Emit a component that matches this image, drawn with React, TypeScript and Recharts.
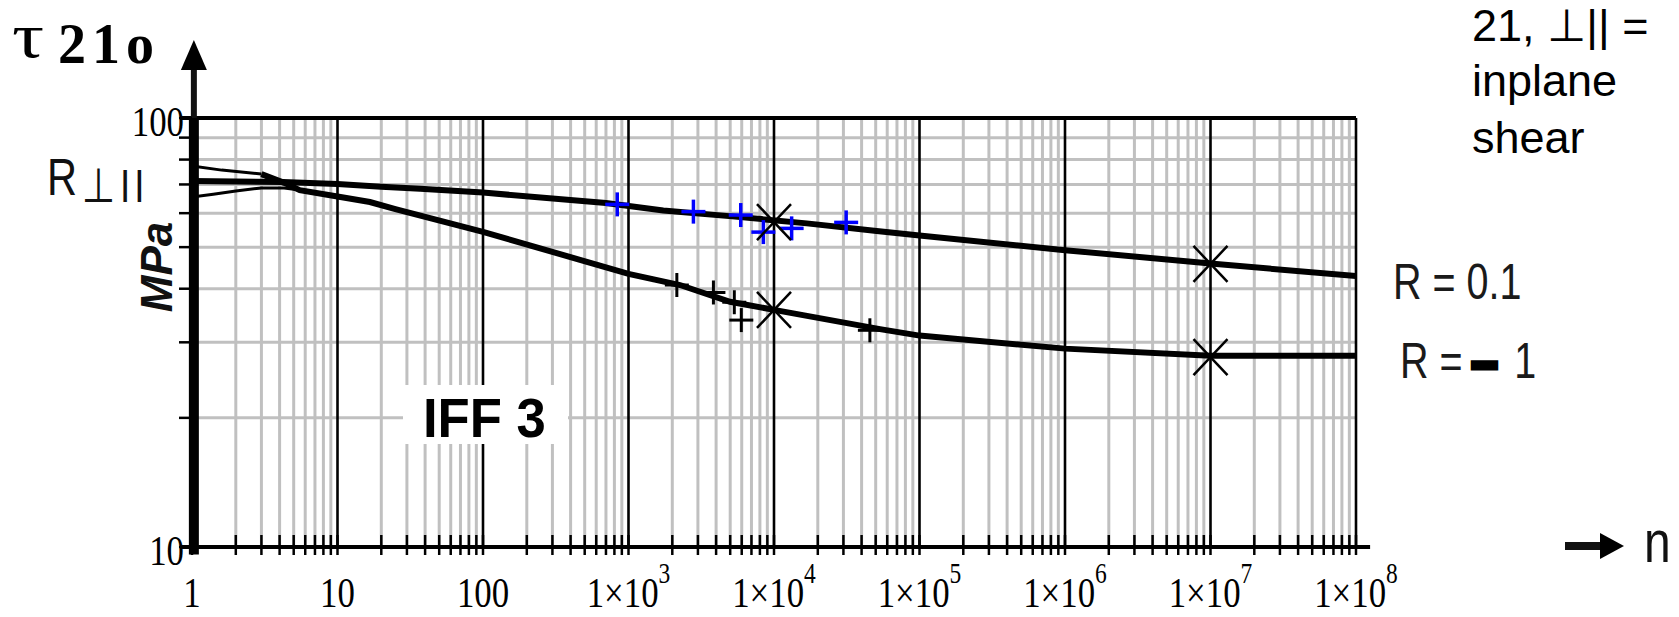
import React from 'react';
import { ComposedChart, Line, Scatter, XAxis, YAxis, ReferenceLine, ReferenceDot } from 'recharts';

// ---- axis / tick data ----
const decades = [1, 10, 100, 1e3, 1e4, 1e5, 1e6, 1e7, 1e8];
const decadeLabelBase = ['1', '10', '100', '1×10', '1×10', '1×10', '1×10', '1×10', '1×10'];
const decadeLabelExp = ['', '', '', '3', '4', '5', '6', '7', '8'];
const minorMultipliers = [2, 3, 4, 5, 6, 7, 8, 9];
const yTicks = [10, 20, 30, 40, 50, 60, 70, 80, 90, 100];
const yTickLabels = ['10', '', '', '', '', '', '', '', '', '100'];
const yMinorGrid = [20, 30, 40, 50, 60, 70, 80, 90];

// ---- series: R = 0.1 (upper curve) ----
const r01N = [1, 4.2, 10, 20, 37, 100, 700, 1734, 5395, 16800, 50800, 1e5, 1e6, 1e7, 1e8];
const r01Tau = [71.3, 70.9, 70.2, 69.1, 68.4, 67.0, 63.4, 60.9, 58.9, 56.8, 54.5, 53.2, 49.2, 45.8, 42.8];

// ---- series: R = -1 (lower curve) ----
const rm1ThinN = [1, 1.6, 3];
const rm1ThinTau = [77.3, 75.6, 74.0];
const rm1N = [3, 4.3, 5.5, 10, 16.7, 25, 100, 464, 1000, 2259, 4990, 10000, 53500, 1e5, 1e6, 1e7, 1e8];
const rm1Tau = [74.0, 70.6, 67.9, 65.6, 63.7, 61.3, 54.3, 46.7, 43.3, 40.8, 37.3, 35.7, 32.2, 31.1, 29.0, 27.9, 27.9];

// ---- thin lower envelope at the start ----
const envN = [1, 1.4, 2, 3, 4.3, 5.5];
const envTau = [65.4, 66.4, 67.6, 68.7, 68.7, 67.9];

// ---- test points ----
const bluePlusN = [837, 2794, 5908, 8450, 13220, 31330];
const bluePlusTau = [62.9, 60.5, 59.4, 54.2, 55.3, 57.1];
const blackPlusN = [2149, 3834, 5335, 5960, 45600];
const blackPlusTau = [40.8, 39.2, 37.2, 33.8, 32.0];
const starN = [1e4, 1e4, 1e7, 1e7];
const starTau = [57.2, 35.7, 45.7, 27.7];

const toPts = (n: number[], t: number[]) => n.map((v, i) => ({ n: v, tau: t[i] }));
const r01Data = toPts(r01N, r01Tau);
const rm1ThinData = toPts(rm1ThinN, rm1ThinTau);
const rm1Data = toPts(rm1N, rm1Tau);
const envData = toPts(envN, envTau);
const bluePts = toPts(bluePlusN, bluePlusTau);
const blackPts = toPts(blackPlusN, blackPlusTau);
const starPts = toPts(starN, starTau);

const minorX = decades.slice(0, -1).flatMap((d) => minorMultipliers.map((m) => m * d));
const xTicks = [...decades, ...minorX].sort((a, b) => a - b);

const SERIF = "'Liberation Serif', 'Times New Roman', serif";
const SANS = "'Liberation Sans', Arial, 'DejaVu Sans', sans-serif";

const XTick = (props: any) => {
  const { x, y, payload } = props;
  const v = payload.value;
  const idx = decades.findIndex((d) => Math.abs(d - v) / d < 1e-6);
  return (
    <g>
      <line x1={x} x2={x} y1={y - 12} y2={y + 8} stroke="#000" strokeWidth={2.5} />
      {idx >= 0 && (
        <g transform={`translate(${x},${y + 60}) scale(0.81,1)`}>
          <text x={0} y={0} textAnchor="middle" fontFamily={SERIF} fontSize={43} fill="#000">
            {decadeLabelBase[idx]}
            {decadeLabelExp[idx] ? (
              <tspan fontSize={29} dy={-24}>
                {decadeLabelExp[idx]}
              </tspan>
            ) : null}
          </text>
        </g>
      )}
    </g>
  );
};

const YTick = (props: any) => {
  const { x, y, payload } = props;
  const idx = yTicks.findIndex((t) => Math.abs(t - payload.value) < 1e-6);
  const label = idx >= 0 ? yTickLabels[idx] : '';
  return (
    <g>
      <line x1={x - 13} x2={x} y1={y} y2={y} stroke="#000" strokeWidth={2.5} />
      {label ? (
        <g transform={`translate(${x - 8},${y + 18}) scale(0.81,1)`}>
          <text x={0} y={0} textAnchor="end" fontFamily={SERIF} fontSize={43} fill="#000">
            {label}
          </text>
        </g>
      ) : null}
    </g>
  );
};

const plusShape = (color: string, half: number, sw: number) => (props: any) => {
  const { cx, cy } = props;
  if (cx == null || cy == null) return <g />;
  return (
    <g>
      <line x1={cx - half} x2={cx + half} y1={cy} y2={cy} stroke={color} strokeWidth={sw} />
      <line x1={cx} x2={cx} y1={cy - half} y2={cy + half} stroke={color} strokeWidth={sw} />
    </g>
  );
};

const starShape = (props: any) => {
  const { cx, cy } = props;
  if (cx == null || cy == null) return <g />;
  const hx = 17;
  const hy = 18;
  return (
    <g>
      <line x1={cx - hx} x2={cx + hx} y1={cy - hy} y2={cy + hy} stroke="#000" strokeWidth={2.5} />
      <line x1={cx + hx} x2={cx - hx} y1={cy - hy} y2={cy + hy} stroke="#000" strokeWidth={2.5} />
    </g>
  );
};

const yArrowShape = (props: any) => {
  const { cx, cy } = props;
  if (cx == null || cy == null) return <g />;
  return (
    <g>
      <line x1={cx} x2={cx} y1={cy} y2={cy - 52} stroke="#111" strokeWidth={6} />
      <polygon points={`${cx},${cy - 78} ${cx - 13},${cy - 48} ${cx + 13},${cy - 48}`} fill="#000" />
    </g>
  );
};

const xArrowShape = (props: any) => {
  const { cx, cy } = props;
  if (cx == null || cy == null) return <g />;
  const yy = cy - 1;
  return (
    <g>
      <line x1={cx + 209} x2={cx + 248} y1={yy} y2={yy} stroke="#111" strokeWidth={8} />
      <polygon points={`${cx + 268},${yy} ${cx + 244},${yy - 13} ${cx + 244},${yy + 13}`} fill="#000" />
    </g>
  );
};

export default function App() {
  return (
    <div style={{ position: 'absolute', left: 0, top: 0, width: 1679, height: 617, background: '#fff' }}>
      <ComposedChart width={1679} height={617} margin={{ top: 118, right: 323, bottom: 0, left: 0 }}>
        <XAxis
          dataKey="n"
          type="number"
          scale="log"
          domain={[1, 1e8]}
          ticks={xTicks}
          interval={0}
          allowDataOverflow
          height={70}
          tickSize={0}
          tickMargin={0}
          tickLine={false}
          axisLine={false}
          tick={<XTick />}
        />
        <YAxis
          dataKey="tau"
          type="number"
          scale="log"
          domain={[10, 100]}
          ticks={yTicks}
          interval={0}
          allowDataOverflow
          width={192}
          tickSize={0}
          tickMargin={0}
          tickLine={false}
          axisLine={false}
          tick={<YTick />}
        />

        {/* minor grid */}
        {minorX.map((v) => (
          <ReferenceLine key={`mx${v}`} x={v} stroke="#c0c0c0" strokeWidth={3} zIndex={-100} />
        ))}
        {yMinorGrid.map((v) => (
          <ReferenceLine key={`my${v}`} y={v} stroke="#c0c0c0" strokeWidth={3} zIndex={-100} />
        ))}
        {/* major decade lines */}
        {decades.slice(1).map((v) => (
          <ReferenceLine key={`dx${v}`} x={v} stroke="#000" strokeWidth={2.6} zIndex={-90} />
        ))}
        {/* frame */}
        <ReferenceLine
          segment={[{ x: 0.85, y: 100 }, { x: 1e8, y: 100 }]}
          stroke="#000"
          strokeWidth={4}
          ifOverflow="visible"
          zIndex={-80}
        />
        <ReferenceLine
          segment={[{ x: 0.85, y: 10 }, { x: 1.25e8, y: 10 }]}
          stroke="#000"
          strokeWidth={4}
          ifOverflow="visible"
          zIndex={-80}
        />
        <ReferenceLine
          segment={[{ x: 1.03, y: 9.6 }, { x: 1.03, y: 100 }]}
          stroke="#000"
          strokeWidth={10}
          ifOverflow="visible"
          zIndex={-80}
        />
        <ReferenceDot x={1.03} y={100} r={0} ifOverflow="visible" shape={yArrowShape} zIndex={-80} />
        <ReferenceDot x={1e8} y={10} r={0} ifOverflow="visible" shape={xArrowShape} zIndex={-80} />

        <Line data={envData} dataKey="tau" type="linear" stroke="#000" strokeWidth={3} dot={false} activeDot={false} isAnimationActive={false} />
        <Line data={rm1ThinData} dataKey="tau" type="linear" stroke="#000" strokeWidth={3} dot={false} activeDot={false} isAnimationActive={false} />
        <Line data={r01Data} dataKey="tau" type="linear" stroke="#000" strokeWidth={6} dot={false} activeDot={false} isAnimationActive={false} />
        <Line data={rm1Data} dataKey="tau" type="linear" stroke="#000" strokeWidth={6} dot={false} activeDot={false} isAnimationActive={false} />

        <Scatter data={blackPts} dataKey="tau" shape={plusShape('#000', 12, 3)} isAnimationActive={false} />
        <Scatter data={bluePts} dataKey="tau" shape={plusShape('#0000ff', 12, 3.5)} isAnimationActive={false} />
        <Scatter data={starPts} dataKey="tau" shape={starShape} isAnimationActive={false} />
      </ComposedChart>

      <svg
        width={1679}
        height={617}
        style={{ position: 'absolute', left: 0, top: 0, pointerEvents: 'none' }}
      >
        <g transform="translate(12,57) scale(1.25,1)">
          <text x={0} y={0} fontFamily={SERIF} fontSize={64} fill="#000">τ</text>
        </g>
        <text x={58} y={63} fontFamily={SERIF} fontSize={56} fontWeight="bold" letterSpacing={6} fill="#000">21o</text>

        <g transform="translate(47,195) scale(0.8,1)">
          <text x={0} y={0} fontFamily={SANS} fontSize={52} fill="#111">
            R<tspan fontSize={48} dx={6} dy={7}>⊥</tspan><tspan fontSize={46} dx={6} letterSpacing={5}>II</tspan>
          </text>
        </g>

        <text
          transform="translate(172,267) rotate(-90)"
          x={0}
          y={0}
          textAnchor="middle"
          fontFamily={SANS}
          fontSize={44}
          fontWeight="bold"
          fontStyle="italic"
          fill="#111"
        >
          MPa
        </text>

        <rect x={403} y={385} width={165} height={59} fill="#fff" />
        <g transform="translate(423,437) scale(0.94,1)">
          <text x={0} y={0} fontFamily={SANS} fontSize={56} fontWeight="bold" fill="#000">IFF 3</text>
        </g>

        <g transform="translate(1393,299) scale(0.79,1)">
          <text x={0} y={0} fontFamily={SANS} fontSize={50} fill="#1a1a1a">R = 0.1</text>
        </g>
        <g transform="translate(1400,378) scale(0.79,1)">
          <text x={0} y={0} fontFamily={SANS} fontSize={50} fill="#1a1a1a">
            R = <tspan stroke="#000" strokeWidth={7} fill="#000">–</tspan><tspan dx={10}> 1</tspan>
          </text>
        </g>

        <g transform="translate(1644,562) scale(0.8,1)">
          <text x={0} y={0} fontFamily={SANS} fontSize={60} fill="#111">n</text>
        </g>

        <text x={1472} y={41} fontFamily={SANS} fontSize={45} fill="#000">21, ⊥|| =</text>
        <text x={1472} y={96} fontFamily={SANS} fontSize={45} fill="#000">inplane</text>
        <text x={1472} y={153} fontFamily={SANS} fontSize={45} fill="#000">shear</text>
      </svg>
    </div>
  );
}
